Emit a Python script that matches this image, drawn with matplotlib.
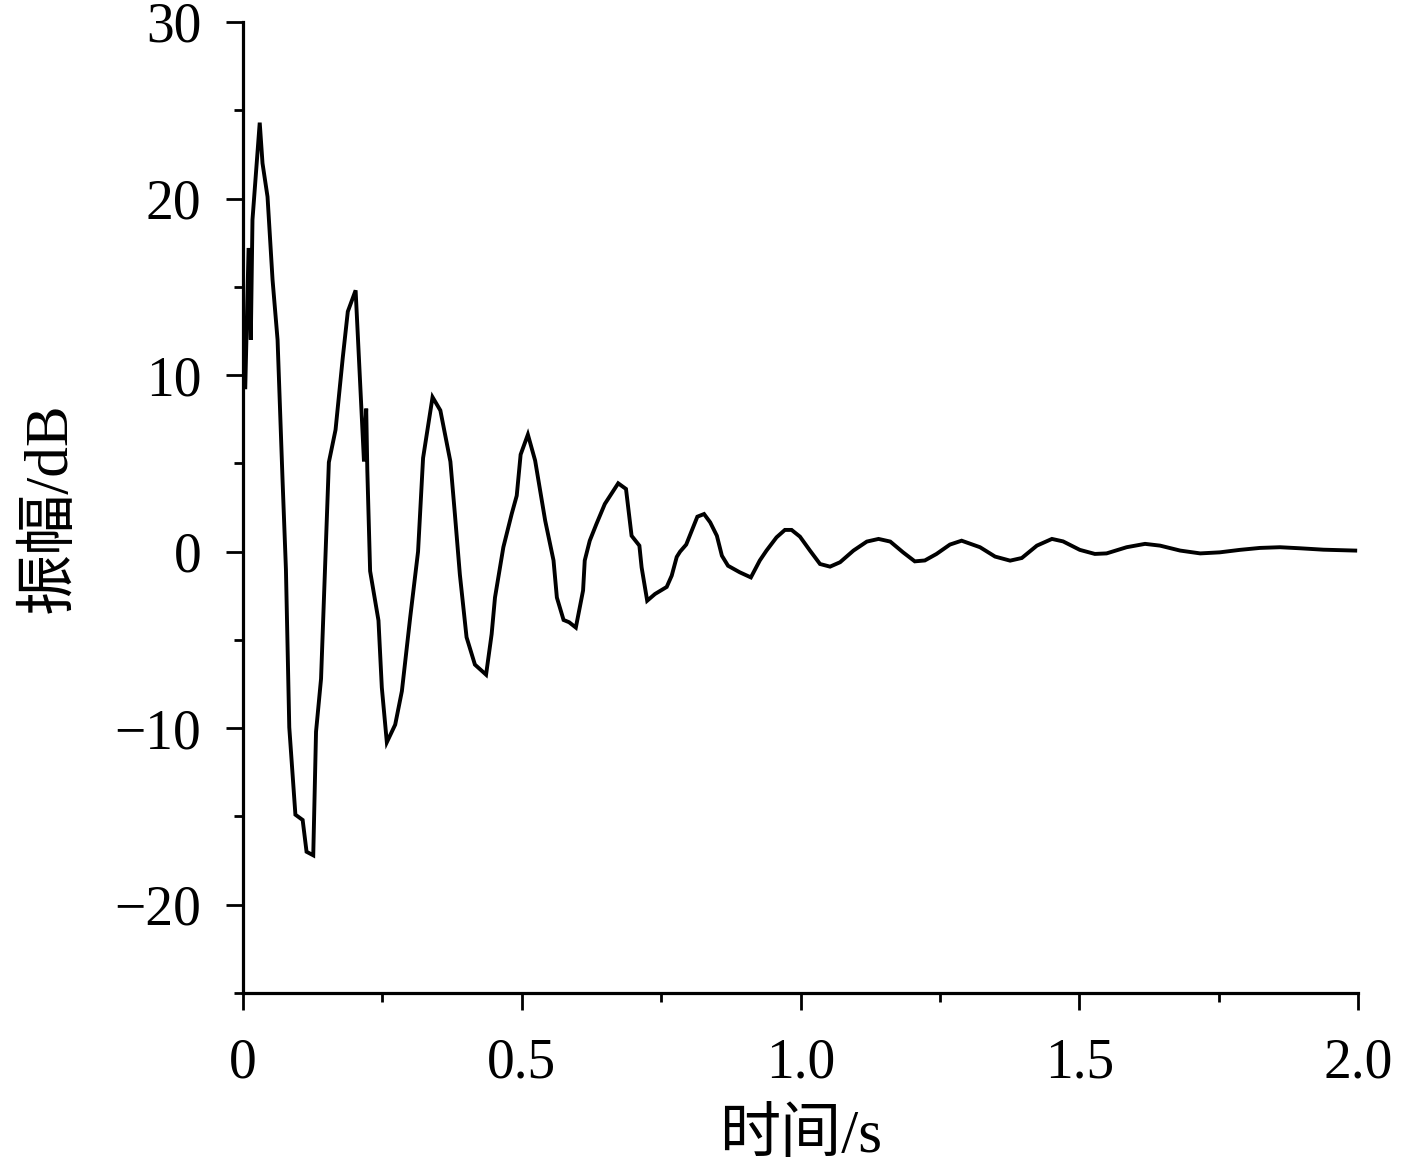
import matplotlib
matplotlib.use("Agg")
import matplotlib.pyplot as plt
from matplotlib.ticker import MultipleLocator

# Time (s) and amplitude (dB)
time_s = [0.000, 0.004, 0.010, 0.014, 0.017, 0.030, 0.035, 0.044, 0.053, 0.062,
          0.071, 0.077, 0.083, 0.094, 0.107, 0.114, 0.126, 0.131, 0.140, 0.154,
          0.166, 0.179, 0.188, 0.202, 0.217, 0.221, 0.223, 0.228, 0.243, 0.249,
          0.258, 0.273, 0.285, 0.300, 0.314, 0.323, 0.340, 0.354, 0.372, 0.380,
          0.389, 0.401, 0.416, 0.436, 0.446, 0.452, 0.467, 0.482, 0.491, 0.498,
          0.511, 0.524, 0.542, 0.557, 0.563, 0.575, 0.585, 0.597, 0.610, 0.613,
          0.622, 0.634, 0.649, 0.673, 0.687, 0.697, 0.711, 0.715, 0.725, 0.739,
          0.760, 0.769, 0.778, 0.784, 0.795, 0.805, 0.815, 0.827, 0.838, 0.850,
          0.859, 0.870, 0.891, 0.911, 0.927, 0.939, 0.957, 0.972, 0.984, 0.999,
          1.017, 1.035, 1.053, 1.071, 1.095, 1.119, 1.140, 1.161, 1.184, 1.205,
          1.223, 1.244, 1.268, 1.289, 1.322, 1.349, 1.376, 1.397, 1.424, 1.451,
          1.471, 1.501, 1.528, 1.549, 1.585, 1.618, 1.645, 1.681, 1.717, 1.752,
          1.788, 1.824, 1.860, 1.896, 1.938, 1.995]
amplitude_db = [13.2, 9.2, 17.2, 12.0, 18.8, 24.3, 22.0, 20.1, 15.4, 12.0,
                4.0, -1.0, -9.95, -14.9, -15.2, -17.0, -17.2, -10.2, -7.2, 5.06,
                6.9, 11.0, 13.6, 14.8, 5.1, 8.1, 4.6, -1.1, -3.9, -7.7,
                -10.8, -9.8, -7.9, -3.7, 0.0, 5.3, 8.75, 8.0, 5.1, 2.15,
                -1.3, -4.85, -6.4, -6.97, -4.67, -2.6, 0.25, 2.14, 3.17, 5.5,
                6.63, 5.16, 1.76, -0.5, -2.6, -3.87, -4.0, -4.3, -2.2, -0.5,
                0.62, 1.57, 2.7, 3.87, 3.55, 0.9, 0.34, -0.89, -2.78, -2.4,
                -2.0, -1.36, -0.3, 0.0, 0.4, 1.19, 1.98, 2.13, 1.66, 0.9,
                -0.23, -0.8, -1.17, -1.46, -0.5, 0.06, 0.81, 1.23, 1.23, 0.85,
                0.06, -0.7, -0.85, -0.6, 0.06, 0.57, 0.72, 0.57, -0.04, -0.55,
                -0.5, -0.13, 0.4, 0.62, 0.25, -0.28, -0.51, -0.36, 0.34, 0.72,
                0.58, 0.1, -0.13, -0.1, 0.25, 0.44, 0.34, 0.06, -0.1, -0.04,
                0.1, 0.21, 0.25, 0.19, 0.11, 0.06]

x_ticks = [0, 0.5, 1.0, 1.5, 2.0]
x_tick_labels = ["0", "0.5", "1.0", "1.5", "2.0"]
y_ticks = [-20, -10, 0, 10, 20, 30]
y_tick_labels = ["\u221220", "\u221210", "0", "10", "20", "30"]
x_label = "时间/s"
y_label = "振幅/dB"

plt.rcParams['font.family'] = ['Liberation Serif', 'Noto Sans CJK SC', 'DejaVu Sans']

fig = plt.figure(figsize=(14.17, 11.64), dpi=100)
ax = fig.add_axes([243/1417, 1 - 993/1164, (1358 - 243)/1417, (993 - 22)/1164])

ax.plot(time_s, amplitude_db, color='black', lw=2.8, solid_joinstyle='miter')

ax.set_xlim(0, 2.0)
ax.set_ylim(-25, 30)
ax.set_xticks(x_ticks)
ax.set_xticklabels(x_tick_labels)
ax.set_yticks(y_ticks)
ax.set_yticklabels(y_tick_labels)
ax.xaxis.set_minor_locator(MultipleLocator(0.25))
ax.yaxis.set_minor_locator(MultipleLocator(5))

for s in ['top', 'right']:
    ax.spines[s].set_visible(False)
for s in ['left', 'bottom']:
    ax.spines[s].set_linewidth(2.3)

ax.tick_params(axis='both', which='major', direction='out', length=12, width=2.0,
               labelsize=40)
ax.tick_params(axis='x', which='major', pad=20)
ax.tick_params(axis='y', which='major', pad=18)
ax.tick_params(axis='both', which='minor', direction='out', length=6.5, width=2.0)

ax.set_xlabel(x_label, fontsize=44, labelpad=14)
ax.set_ylabel(y_label, fontsize=44, labelpad=26)

fig.savefig("out.png", dpi=100)
